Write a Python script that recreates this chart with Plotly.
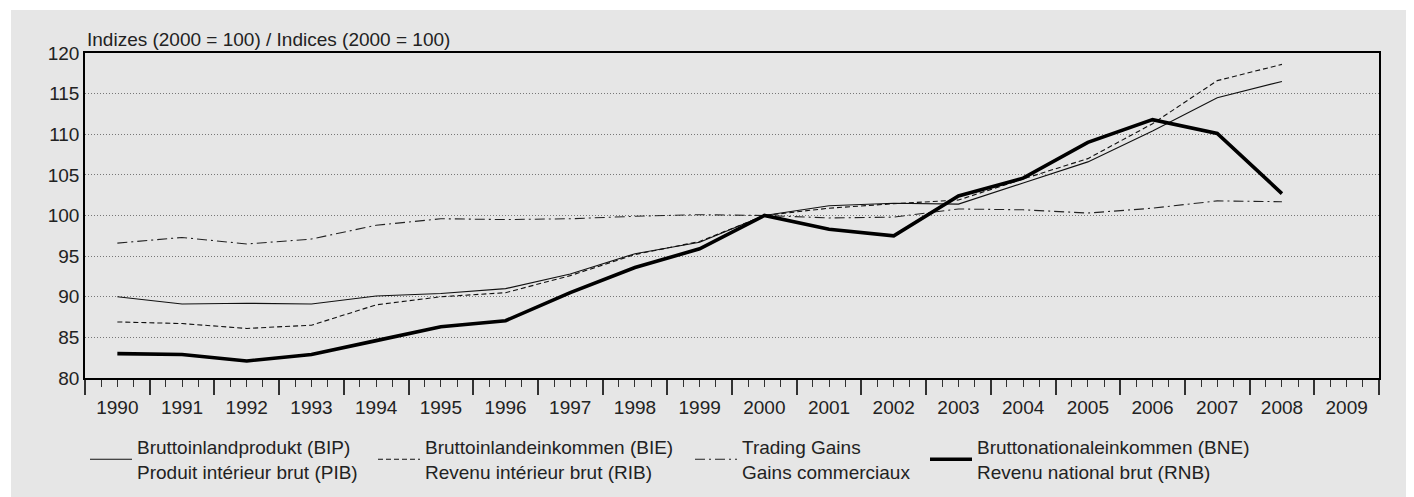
import plotly.graph_objects as go

years = list(range(1990, 2010))
year_labels = [str(y) for y in years]

bip = [90.0, 89.1, 89.2, 89.1, 90.1, 90.4, 91.0, 92.8, 95.3, 96.7, 100.0, 101.2, 101.5, 101.4, 104.0, 106.6, 110.4, 114.5, 116.5]
bie = [86.9, 86.7, 86.1, 86.5, 89.0, 90.0, 90.5, 92.6, 95.2, 96.8, 100.0, 100.9, 101.45, 101.9, 104.5, 107.0, 111.3, 116.6, 118.6]
trading = [96.6, 97.3, 96.5, 97.1, 98.8, 99.6, 99.5, 99.6, 99.9, 100.1, 100.0, 99.7, 99.8, 100.8, 100.7, 100.3, 100.9, 101.8, 101.7]
bne = [83.0, 82.9, 82.1, 82.9, 84.6, 86.3, 87.05, 90.5, 93.6, 95.9, 100.0, 98.3, 97.5, 102.4, 104.6, 109.0, 111.8, 110.1, 102.7]

names = [
    "Bruttoinlandprodukt (BIP)<br>Produit intérieur brut (PIB)",
    "Bruttoinlandeinkommen (BIE)<br>Revenu intérieur brut (RIB)",
    "Trading Gains<br>Gains commerciaux",
    "Bruttonationaleinkommen (BNE)<br>Revenu national brut (RNB)",
]
y_title = "Indizes (2000 = 100) / Indices (2000 = 100)"

FONT = "Liberation Sans, Arial, sans-serif"
OFF = 8  # page body margin
W, H = 1414 - OFF, 497 - OFF
L, T = 85 - OFF, 53 - OFF
R = W - (1379 - OFF)
B = H - (378 - OFF)
PW, PH = W - L - R, H - T - B

series = [bip, bie, trading, bne]
styles = [
    dict(color="#111111", width=1.1, dash="solid"),
    dict(color="#111111", width=1.1, dash="5px,3px"),
    dict(color="#222222", width=1.1, dash="10px,4px,2px,4px"),
    dict(color="#000000", width=3.6, dash="solid"),
]
legend_text_px = [137, 425, 742, 977]  # page x where legend text starts
ITEMW = 42

fig = go.Figure()
for i, (vals, st, nm) in enumerate(zip(series, styles, names)):
    fig.add_trace(go.Scatter(
        x=years[:len(vals)], y=vals, mode="lines", name=nm,
        line=st, legend="legend" if i == 0 else f"legend{i+1}",
        hoverinfo="skip",
    ))

major_vals, major_text = [], []
for y in years:
    for off in (-0.25, 0.0, 0.25):
        major_vals.append(y + off)
        major_text.append(str(y) if off == 0 else "")
boundaries = [y - 0.5 for y in years] + [years[-1] + 0.5]

legends = {}
for i, px in enumerate(legend_text_px):
    key = "legend" if i == 0 else f"legend{i+1}"
    legends[key] = dict(
        x=(px - OFF - (ITEMW + 10) - L) / PW, xanchor="left",
        y=-(420 - (T + PH)) / PH, yanchor="top",
        bgcolor="rgba(0,0,0,0)", borderwidth=0, itemwidth=ITEMW,
        font=dict(family=FONT, size=19, color="#222222"),
        orientation="v", itemclick=False, itemdoubleclick=False,
    )

fig.update_layout(
    width=W, height=H,
    margin=dict(l=L, r=R, t=T, b=B, pad=0, autoexpand=False),
    paper_bgcolor="white",
    plot_bgcolor="rgba(0,0,0,0)",
    font=dict(family=FONT, size=19, color="#222222"),
    showlegend=True,
    **legends,
    shapes=[dict(
        type="rect", xref="paper", yref="paper", layer="below",
        x0=(11 - OFF - L) / PW, x1=(W - L) / PW,
        y0=-(H - (T + PH)) / PH, y1=1 + (T - (10 - OFF)) / PH,
        fillcolor="#e6e6e6", line=dict(width=0),
    )],
    annotations=[dict(
        text=y_title, xref="paper", yref="paper", x=0, y=1 + 13 / PH,
        xanchor="left", yanchor="middle", showarrow=False,
        font=dict(family=FONT, size=19, color="#222222"),
    )],
)

fig.update_xaxes(
    range=[1989.5, 2009.5], tickmode="array",
    tickvals=major_vals, ticktext=major_text,
    ticks="outside", ticklen=7, tickwidth=1, tickcolor="#333333",
    ticklabelstandoff=4,
    showgrid=False, zeroline=False,
    showline=True, linecolor="black", linewidth=1.5, mirror=True,
    minor=dict(tickmode="array", tickvals=boundaries, ticks="outside",
               ticklen=15, tickwidth=1.5, tickcolor="#333333", showgrid=False),
    tickfont=dict(family=FONT, size=19, color="#222222"),
    fixedrange=True,
)
fig.update_yaxes(
    range=[80, 120], tickmode="linear", tick0=80, dtick=5,
    ticks="", showgrid=True, gridcolor="#777777", gridwidth=1, griddash="1px,2px",
    zeroline=False, showline=True, linecolor="black", linewidth=1.5, mirror=True,
    tickfont=dict(family=FONT, size=19, color="#222222"),
    fixedrange=True,
)

fig.write_html("out.html")
